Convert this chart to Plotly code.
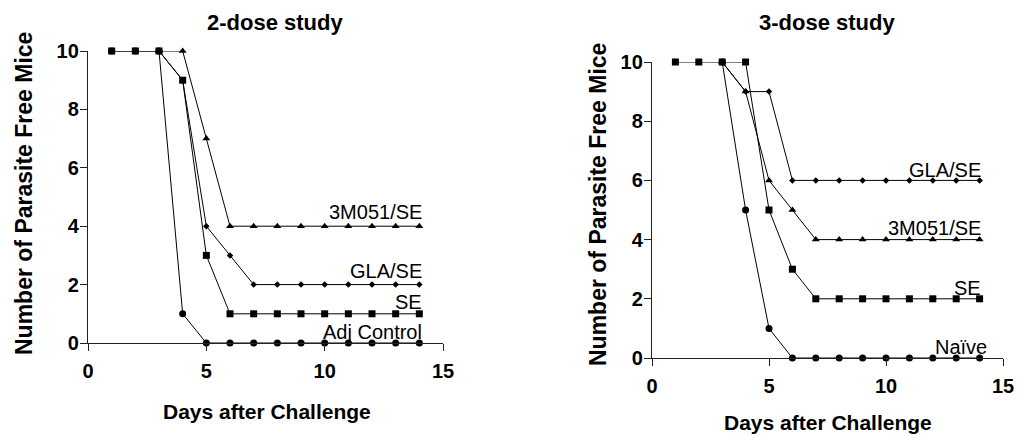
import plotly.graph_objects as go

# ---- data ----
days = list(range(1, 15))

# 2-dose study
two_adj = [10, 10, 10, 1, 0, 0, 0, 0, 0, 0, 0, 0, 0, 0]
two_se = [10, 10, 10, 9, 3, 1, 1, 1, 1, 1, 1, 1, 1, 1]
two_gla = [None, None, 10, 9, 4, 3, 2, 2, 2, 2, 2, 2, 2, 2]
two_3m = [None, None, 10, 10, 7, 4, 4, 4, 4, 4, 4, 4, 4, 4]

# 3-dose study
three_naive = [None, None, 10, 5, 1, 0, 0, 0, 0, 0, 0, 0, 0, 0]
three_se = [10, 10, 10, 10, 5, 3, 2, 2, 2, 2, 2, 2, 2, 2]
three_gla = [None, None, 10, 9, 9, 6, 6, 6, 6, 6, 6, 6, 6, 6]
three_3m = [None, None, 10, 9, 6, 5, 4, 4, 4, 4, 4, 4, 4, 4]

x_ticks = [0, 5, 10, 15]
y_ticks = [0, 2, 4, 6, 8, 10]

titles = ["2-dose study", "3-dose study"]
x_title = "Days after Challenge"
y_title = "Number of Parasite Free Mice"

labels_2 = ["3M051/SE", "GLA/SE", "SE", "Adj Control"]
labels_3 = ["GLA/SE", "3M051/SE", "SE", "Naïve"]

# ---- figure ----
FONT = "Liberation Sans, Arial, sans-serif"
fig = go.Figure()

def add(x, y, symbol, size, xa, ya):
    fig.add_trace(go.Scatter(
        x=x, y=y, mode="lines+markers", xaxis=xa, yaxis=ya,
        line=dict(color="black", width=1),
        marker=dict(symbol=symbol, size=size, color="black"),
        cliponaxis=False, showlegend=False, connectgaps=False))

add(days, two_adj, "circle", 7, "x", "y")
add(days, two_se, "square", 7, "x", "y")
add(days, two_gla, "diamond", 5, "x", "y")
add(days, two_3m, "triangle-up", 7, "x", "y")

add(days, three_naive, "circle", 7, "x2", "y2")
add(days, three_se, "square", 7, "x2", "y2")
add(days, three_gla, "diamond", 5, "x2", "y2")
add(days, three_3m, "triangle-up", 7, "x2", "y2")

W, H = 1017, 435

axis_common = dict(
    showline=True, linecolor="#222", linewidth=1.3,
    ticks="outside", ticklen=7, tickcolor="#222", tickwidth=1.3,
    showgrid=False, zeroline=False, automargin=False,
    ticklabeloverflow="allow",
    tickfont=dict(family=FONT, size=20, color="black", weight="bold"),
)

fig.update_layout(
    width=W, height=H, autosize=False,
    margin=dict(l=0, r=0, t=0, b=0, pad=0, autoexpand=False),
    paper_bgcolor="white", plot_bgcolor="white",
    xaxis=dict(domain=[88 / W, 443 / W], range=[0, 15], tickvals=x_ticks,
               anchor="y", ticklabelstandoff=3, **axis_common),
    yaxis=dict(domain=[1 - 343 / H, 1 - 51 / H], range=[0, 10], tickvals=y_ticks,
               anchor="x", ticklabelstandoff=-3, **axis_common),
    xaxis2=dict(domain=[652 / W, 1003 / W], range=[0, 15], tickvals=x_ticks,
                anchor="y2", ticklabelstandoff=3, **axis_common),
    yaxis2=dict(domain=[1 - 358 / H, 1 - 62 / H], range=[0, 10], tickvals=y_ticks,
                anchor="x2", ticklabelstandoff=-3, **axis_common),
)

ann = []
# titles
for txt, cx in zip(titles, [275, 827]):
    ann.append(dict(text="<b>" + txt + "</b>", x=cx / W, y=1 - 22 / H, xref="paper", yref="paper",
                    showarrow=False, font=dict(family=FONT, size=22, color="black"),
                    xanchor="center", yanchor="middle"))
# x titles
for cx, cy in [(267, 411), (828, 422)]:
    ann.append(dict(text="<b>" + x_title + "</b>", x=cx / W, y=1 - cy / H, xref="paper", yref="paper",
                    showarrow=False, font=dict(family=FONT, size=21, color="black"),
                    xanchor="center", yanchor="middle"))
# y titles
for cx, cy in [(24, 194), (598, 205)]:
    ann.append(dict(text="<b>" + y_title + "</b>", x=cx / W, y=1 - cy / H, xref="paper", yref="paper",
                    showarrow=False, textangle=-90, font=dict(family=FONT, size=23, color="black"),
                    xanchor="center", yanchor="middle"))

# series labels
pos2 = [(14.2, 4.5), (14.2, 2.45), (14.2, 1.4), (14.2, 0.38)]
pos3 = [(14.15, 6.35), (14.15, 4.4), (14.15, 2.36), (14.4, 0.37)]
for txt, (lx, ly) in zip(labels_2, pos2):
    ann.append(dict(text=txt, x=lx, y=ly, xref="x", yref="y", showarrow=False,
                    xanchor="right", yanchor="middle",
                    font=dict(family=FONT, size=20, color="black")))
for txt, (lx, ly) in zip(labels_3, pos3):
    ann.append(dict(text=txt, x=lx, y=ly, xref="x2", yref="y2", showarrow=False,
                    xanchor="right", yanchor="middle",
                    font=dict(family=FONT, size=20, color="black")))

fig.update_layout(annotations=ann)
fig.write_html("out.html", config={"responsive": False, "displayModeBar": False},
               post_script="document.body.style.margin='0';document.body.style.overflow='hidden';")
